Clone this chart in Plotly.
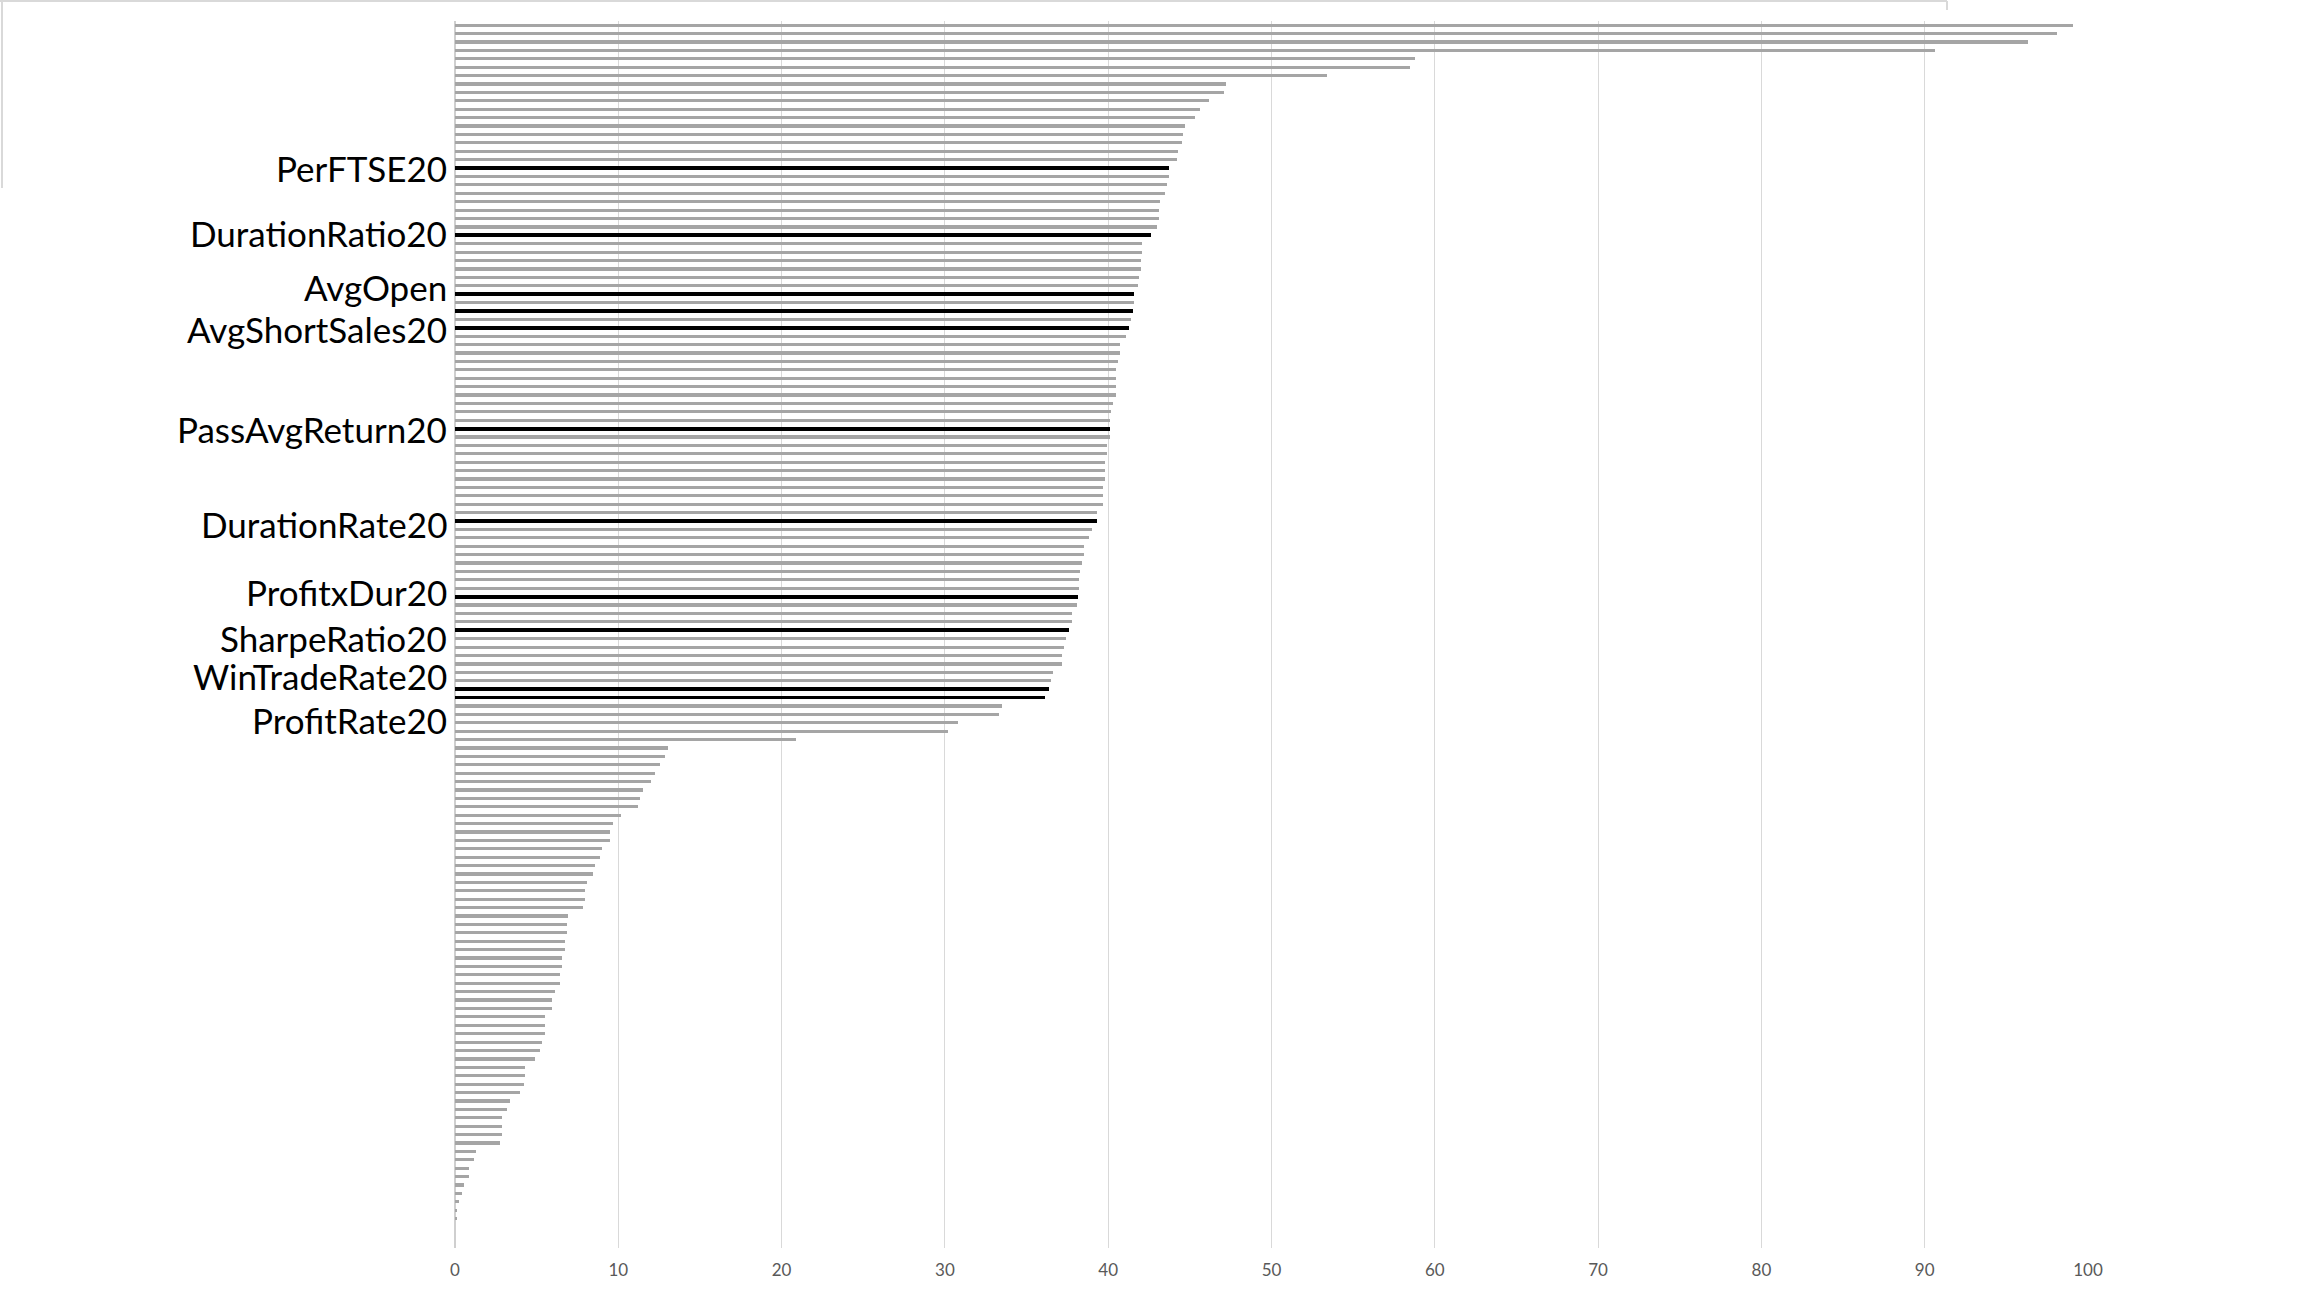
import plotly.graph_objects as go

# ---- data -------------------------------------------------------------
# importance score of each feature, in ranked order (top = rank 0)
ranks = list(range(146))
scores = [
    99.1, 98.1, 96.3, 90.6, 58.8, 58.5, 53.4, 47.2, 47.1, 46.2,
    45.6, 45.3, 44.7, 44.6, 44.5, 44.3, 44.2, 43.7, 43.7, 43.6,
    43.5, 43.2, 43.1, 43.1, 43.0, 42.6, 42.1, 42.1, 42.0, 42.0,
    41.9, 41.8, 41.6, 41.6, 41.5, 41.4, 41.3, 41.1, 40.7, 40.7,
    40.6, 40.5, 40.5, 40.5, 40.5, 40.3, 40.2, 40.1, 40.1, 40.1,
    39.9, 39.9, 39.8, 39.8, 39.8, 39.7, 39.7, 39.7, 39.3, 39.3,
    39.0, 38.8, 38.5, 38.5, 38.4, 38.3, 38.2, 38.2, 38.15, 38.1,
    37.8, 37.8, 37.6, 37.4, 37.3, 37.2, 37.2, 36.6, 36.5, 36.4,
    36.1, 33.5, 33.3, 30.8, 30.2, 20.9, 13.05, 12.87, 12.56, 12.26,
    12.01, 11.52, 11.34, 11.22, 10.17, 9.68, 9.50, 9.50, 9.01, 8.89,
    8.58, 8.46, 8.09, 7.97, 7.97, 7.84, 6.93, 6.86, 6.86, 6.74,
    6.74, 6.56, 6.56, 6.44, 6.44, 6.13, 5.94, 5.94, 5.52, 5.52,
    5.52, 5.33, 5.21, 4.90, 4.29, 4.29, 4.23, 3.98, 3.37, 3.19,
    2.88, 2.88, 2.88, 2.76, 1.29, 1.16, 0.86, 0.86, 0.55, 0.43,
    0.25, 0.12, 0.12, 0.0, 0.0, 0.0,
]

# highlighted features (rank -> label); rank 34 is highlighted but unlabeled
highlight_ranks = [17, 25, 32, 34, 36, 48, 59, 68, 72, 79, 80]
label_names = {
    17: "PerFTSE20",
    25: "DurationRatio20",
    32: "AvgOpen",
    36: "AvgShortSales20",
    48: "PassAvgReturn20",
    59: "DurationRate20",
    68: "ProfitxDur20",
    72: "SharpeRatio20",
    79: "WinTradeRate20",
    80: "ProfitRate20",
}
# vertical nudge of the hand-placed labels (pixels, up positive)
label_nudge = {17: 0, 25: 2, 32: 7, 36: -1, 48: 0, 59: -3, 68: 5,
               72: -8, 79: 13, 80: -22}

x_ticks = [0, 10, 20, 30, 40, 50, 60, 70, 80, 90, 100]

# ---- styling ----------------------------------------------------------
GRAY = "#a5a5a5"
BLACK = "#000000"
colors = [BLACK if r in highlight_ranks else GRAY for r in ranks]
widths = [0.46 if r in highlight_ranks else 0.38 for r in ranks]

W, H = 2304, 1296
L, R, T, B = 455, 216, 21, 48

fig = go.Figure(
    go.Bar(
        x=scores,
        y=ranks,
        orientation="h",
        marker=dict(color=colors, line=dict(width=0)),
        width=widths,
        hoverinfo="x",
    )
)

for r, name in label_names.items():
    fig.add_annotation(
        x=0, y=r, xref="x", yref="y",
        text=name, showarrow=False,
        xanchor="right", yanchor="middle",
        xshift=-6, yshift=label_nudge[r],
        font=dict(family="Lato", size=35, color="#000000"),
    )

# screenshot frame artefacts (light border lines at top-left)
def px_x(p):
    return (p - L) / (W - L - R)

def px_y(p):
    return 1 - (p - T) / (H - T - B)

frame = "#d9d9d9"
fig.add_shape(type="line", xref="paper", yref="paper",
              x0=px_x(0), x1=px_x(1947), y0=px_y(1), y1=px_y(1),
              line=dict(color=frame, width=2))
fig.add_shape(type="line", xref="paper", yref="paper",
              x0=px_x(1947), x1=px_x(1947), y0=px_y(1), y1=px_y(10),
              line=dict(color=frame, width=2))
fig.add_shape(type="line", xref="paper", yref="paper",
              x0=px_x(2), x1=px_x(2), y0=px_y(0), y1=px_y(188),
              line=dict(color=frame, width=2))

fig.update_layout(
    width=W, height=H,
    margin=dict(l=L, r=R, t=T, b=B, pad=0),
    paper_bgcolor="white",
    plot_bgcolor="white",
    showlegend=False,
    bargap=0,
    font=dict(family="Lato"),
    xaxis=dict(
        range=[0, 100],
        tickvals=x_ticks,
        ticktext=[str(v) for v in x_ticks],
        showgrid=True,
        gridcolor="#d9d9d9",
        gridwidth=1,
        zeroline=True,
        zerolinecolor="#cfcfcf",
        zerolinewidth=1.5,
        showline=False,
        ticks="",
        ticklabelstandoff=10,
        tickfont=dict(family="Lato", size=17, color="#595959"),
        fixedrange=True,
    ),
    yaxis=dict(
        range=[145.5, -0.5],
        showticklabels=False,
        showgrid=False,
        zeroline=False,
        showline=False,
        ticks="",
        fixedrange=True,
    ),
)

fig.write_html(
    "out.html",
    config={"displayModeBar": False},
    post_script="document.body.style.margin='0';document.body.style.overflow='hidden';",
)
